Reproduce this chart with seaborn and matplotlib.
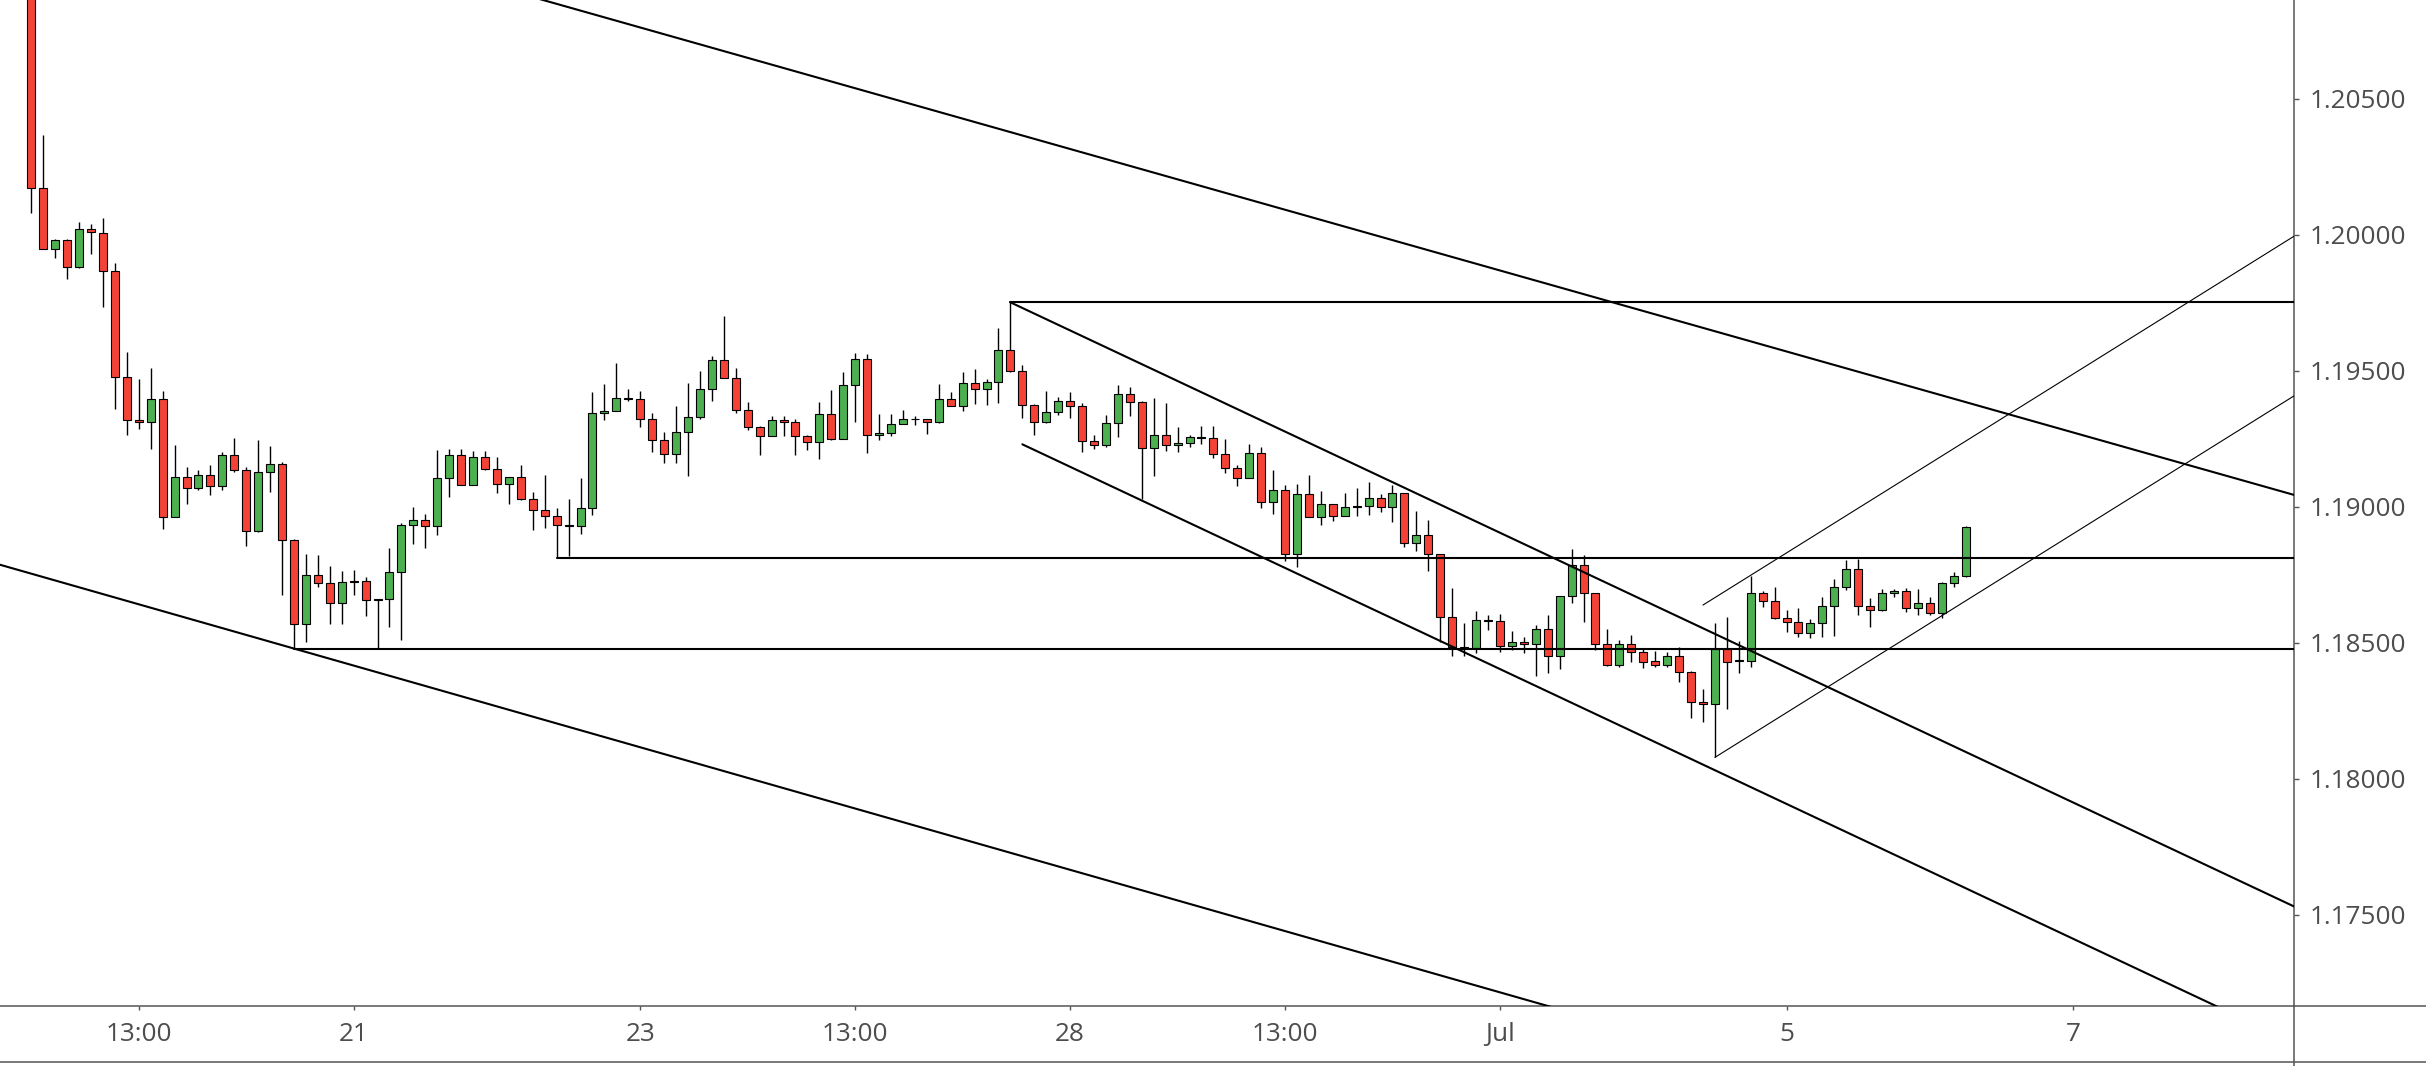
import matplotlib
matplotlib.use("Agg")
import matplotlib.pyplot as plt
from matplotlib.lines import Line2D
import seaborn as sns
import pandas as pd
import numpy as np

# EUR/USD style 2H candles
opens = [
    1.21300, 1.20173, 1.19947, 1.19979, 1.19881, 1.20019, 1.20007, 1.19866, 1.19476, 1.19318,
    1.19310, 1.19397, 1.18962, 1.19108, 1.19069, 1.19115, 1.19075, 1.19189, 1.19134, 1.18910,
    1.19126, 1.19156, 1.18877, 1.18568, 1.18749, 1.18719, 1.18645, 1.18724, 1.18727, 1.18657,
    1.18659, 1.18758, 1.18931, 1.18950, 1.18928, 1.19104, 1.19189, 1.19078, 1.19181, 1.19137,
    1.19082, 1.19108, 1.19027, 1.18986, 1.18964, 1.18930, 1.18928, 1.18994, 1.19343, 1.19350,
    1.19397, 1.19395, 1.19321, 1.19244, 1.19192, 1.19273, 1.19328, 1.19431, 1.19538, 1.19472,
    1.19354, 1.19292, 1.19258, 1.19317, 1.19310, 1.19258, 1.19239, 1.19339, 1.19250, 1.19446,
    1.19542, 1.19262, 1.19270, 1.19303, 1.19321, 1.19321, 1.19310, 1.19395, 1.19369, 1.19453,
    1.19431, 1.19457, 1.19575, 1.19497, 1.19372, 1.19310, 1.19347, 1.19387, 1.19369, 1.19240,
    1.19225, 1.19306, 1.19413, 1.19383, 1.19214, 1.19262, 1.19225, 1.19233, 1.19254, 1.19252,
    1.19192, 1.19141, 1.19104, 1.19196, 1.19016, 1.19060, 1.18825, 1.19045, 1.18961, 1.19008,
    1.18964, 1.18999, 1.19001, 1.19031, 1.18997, 1.19049, 1.18865, 1.18894, 1.18825, 1.18593,
    1.18485, 1.18479, 1.18580, 1.18578, 1.18486, 1.18501, 1.18494, 1.18549, 1.18450, 1.18670,
    1.18784, 1.18681, 1.18494, 1.18417, 1.18494, 1.18464, 1.18431, 1.18417, 1.18450, 1.18391,
    1.18280, 1.18273, 1.18475, 1.18433, 1.18433, 1.18681, 1.18652, 1.18589, 1.18575, 1.18534,
    1.18571, 1.18633, 1.18703, 1.18769, 1.18633, 1.18619, 1.18681, 1.18689, 1.18626, 1.18644,
    1.18608, 1.18718, 1.18744,
]
highs = [
    1.21360, 1.20367, 1.19982, 1.19982, 1.20047, 1.20039, 1.20062, 1.19894, 1.19568, 1.19469,
    1.19508, 1.19426, 1.19226, 1.19144, 1.19134, 1.19152, 1.19202, 1.19253, 1.19144, 1.19244,
    1.19223, 1.19163, 1.18880, 1.18826, 1.18823, 1.18782, 1.18765, 1.18767, 1.18740, 1.18659,
    1.18847, 1.18938, 1.18998, 1.18972, 1.19208, 1.19212, 1.19212, 1.19204, 1.19204, 1.19181,
    1.19108, 1.19152, 1.19053, 1.19115, 1.18994, 1.19027, 1.19104, 1.19420, 1.19450, 1.19527,
    1.19431, 1.19424, 1.19343, 1.19273, 1.19370, 1.19454, 1.19499, 1.19554, 1.19701, 1.19510,
    1.19385, 1.19295, 1.19333, 1.19333, 1.19321, 1.19262, 1.19385, 1.19429, 1.19495, 1.19565,
    1.19561, 1.19339, 1.19339, 1.19354, 1.19332, 1.19321, 1.19450, 1.19420, 1.19494, 1.19505,
    1.19468, 1.19657, 1.19751, 1.19519, 1.19376, 1.19424, 1.19404, 1.19420, 1.19380, 1.19262,
    1.19336, 1.19446, 1.19439, 1.19387, 1.19398, 1.19380, 1.19291, 1.19262, 1.19295, 1.19295,
    1.19247, 1.19152, 1.19229, 1.19218, 1.19134, 1.19078, 1.19082, 1.19115, 1.19056, 1.19008,
    1.19049, 1.19067, 1.19089, 1.19045, 1.19078, 1.19049, 1.18983, 1.18950, 1.18825, 1.18700,
    1.18571, 1.18615, 1.18600, 1.18604, 1.18542, 1.18520, 1.18564, 1.18600, 1.18670, 1.18843,
    1.18821, 1.18681, 1.18549, 1.18508, 1.18527, 1.18479, 1.18468, 1.18464, 1.18483, 1.18394,
    1.18328, 1.18571, 1.18595, 1.18507, 1.18745, 1.18688, 1.18703, 1.18619, 1.18626, 1.18586,
    1.18668, 1.18733, 1.18803, 1.18806, 1.18663, 1.18696, 1.18696, 1.18700, 1.18696, 1.18667,
    1.18722, 1.18759, 1.18928,
]
lows = [
    1.20081, 1.19947, 1.19914, 1.19838, 1.19876, 1.19930, 1.19735, 1.19357, 1.19263, 1.19287,
    1.19213, 1.18916, 1.18960, 1.19008, 1.19061, 1.19044, 1.19061, 1.19128, 1.18855, 1.18905,
    1.19052, 1.18676, 1.18478, 1.18503, 1.18704, 1.18570, 1.18570, 1.18676, 1.18596, 1.18478,
    1.18557, 1.18511, 1.18864, 1.18849, 1.18897, 1.19036, 1.19078, 1.19078, 1.19133, 1.19049,
    1.19008, 1.19023, 1.18915, 1.18920, 1.18812, 1.18819, 1.18900, 1.18969, 1.19317, 1.19350,
    1.19389, 1.19294, 1.19202, 1.19159, 1.19159, 1.19114, 1.19323, 1.19389, 1.19472, 1.19343,
    1.19283, 1.19191, 1.19258, 1.19260, 1.19191, 1.19209, 1.19176, 1.19246, 1.19250, 1.19312,
    1.19198, 1.19246, 1.19258, 1.19303, 1.19299, 1.19268, 1.19306, 1.19369, 1.19350, 1.19376,
    1.19375, 1.19382, 1.19494, 1.19325, 1.19262, 1.19306, 1.19336, 1.19325, 1.19200, 1.19211,
    1.19218, 1.19255, 1.19332, 1.19027, 1.19111, 1.19203, 1.19200, 1.19218, 1.19229, 1.19178,
    1.19122, 1.19075, 1.19104, 1.18994, 1.18972, 1.18799, 1.18777, 1.18961, 1.18932, 1.18946,
    1.18964, 1.18964, 1.18968, 1.18979, 1.18942, 1.18850, 1.18835, 1.18762, 1.18501, 1.18452,
    1.18452, 1.18461, 1.18545, 1.18467, 1.18472, 1.18461, 1.18376, 1.18387, 1.18404, 1.18644,
    1.18575, 1.18472, 1.18413, 1.18409, 1.18428, 1.18408, 1.18411, 1.18411, 1.18356, 1.18224,
    1.18207, 1.18078, 1.18257, 1.18389, 1.18411, 1.18630, 1.18585, 1.18538, 1.18519, 1.18516,
    1.18519, 1.18523, 1.18692, 1.18600, 1.18556, 1.18615, 1.18667, 1.18611, 1.18600, 1.18600,
    1.18589, 1.18703, 1.18740,
]
closes = [
    1.20173, 1.19947, 1.19979, 1.19881, 1.20019, 1.20009, 1.19866, 1.19476, 1.19318, 1.19310,
    1.19397, 1.18962, 1.19108, 1.19069, 1.19115, 1.19075, 1.19189, 1.19134, 1.18910, 1.19126,
    1.19156, 1.18877, 1.18568, 1.18749, 1.18719, 1.18645, 1.18721, 1.18724, 1.18657, 1.18657,
    1.18758, 1.18931, 1.18951, 1.18928, 1.19104, 1.19189, 1.19078, 1.19181, 1.19137, 1.19082,
    1.19108, 1.19027, 1.18986, 1.18964, 1.18931, 1.18930, 1.18994, 1.19343, 1.19350, 1.19398,
    1.19397, 1.19321, 1.19244, 1.19192, 1.19273, 1.19328, 1.19431, 1.19538, 1.19472, 1.19354,
    1.19292, 1.19258, 1.19317, 1.19310, 1.19258, 1.19239, 1.19339, 1.19250, 1.19446, 1.19542,
    1.19262, 1.19270, 1.19303, 1.19321, 1.19321, 1.19310, 1.19395, 1.19369, 1.19453, 1.19431,
    1.19457, 1.19575, 1.19497, 1.19372, 1.19310, 1.19347, 1.19387, 1.19369, 1.19240, 1.19225,
    1.19306, 1.19413, 1.19383, 1.19214, 1.19262, 1.19225, 1.19233, 1.19255, 1.19254, 1.19192,
    1.19141, 1.19104, 1.19196, 1.19016, 1.19060, 1.18825, 1.19045, 1.18961, 1.19008, 1.18964,
    1.18997, 1.18999, 1.19031, 1.18997, 1.19049, 1.18865, 1.18894, 1.18825, 1.18593, 1.18485,
    1.18480, 1.18582, 1.18580, 1.18486, 1.18501, 1.18494, 1.18549, 1.18450, 1.18670, 1.18784,
    1.18681, 1.18494, 1.18417, 1.18494, 1.18464, 1.18430, 1.18417, 1.18450, 1.18391, 1.18280,
    1.18273, 1.18475, 1.18430, 1.18433, 1.18681, 1.18652, 1.18589, 1.18575, 1.18534, 1.18571,
    1.18633, 1.18703, 1.18769, 1.18633, 1.18619, 1.18681, 1.18689, 1.18626, 1.18644, 1.18608,
    1.18718, 1.18744, 1.18924,
]

time_ticks = [9, 27, 51, 69, 87, 105, 123, 147, 171]
time_labels = ["13:00", "21", "23", "13:00", "28", "13:00", "Jul", "5", "7"]
price_ticks = [1.175, 1.180, 1.185, 1.190, 1.195, 1.200, 1.205]

# drawn lines: (x0, price0, x1, price1, width)
long_upper = (30.0, 1.21022, 189.5, 1.19043, 1.5)
long_lower = (-3.0, 1.18791, 135.0, 1.17064, 1.5)
chan_upper = (82.0, 1.19751, 189.5, 1.17530, 1.5)
chan_lower = (83.0, 1.19229, 189.5, 1.17029, 1.5)
thin_upper = (140.0, 1.18638, 189.5, 1.19994, 0.8)
thin_lower = (141.0, 1.18078, 189.5, 1.19407, 0.8)
level_low = (22.0, 1.18478, 189.5, 1.18478, 1.5)
level_mid = (44.0, 1.18812, 189.5, 1.18812, 1.5)
level_high = (82.0, 1.19751, 189.5, 1.19751, 1.5)

GREEN = "#4CAF50"
RED = "#F44336"
AXIS = "#555555"
TEXT = "#4D4D4D"

sns.set_theme(style="white")
plt.rcParams["font.family"] = ["Open Sans", "DejaVu Sans"]

fig = plt.figure(figsize=(24.26, 10.66), dpi=100)
ax = fig.add_axes([0, 0.05629, 0.94559, 0.94371])

df = pd.DataFrame({"open": opens, "high": highs, "low": lows, "close": closes})
df["idx"] = np.arange(len(df))
up = df["close"] > df["open"]
down = df["close"] < df["open"]
flat = ~(up | down)

# wicks
ax.vlines(df["idx"], df["low"], df["high"], color="black", lw=1.0, zorder=2)

# bodies
for mask, col in [(up, GREEN), (down, RED), (flat, "black")]:
    sub = df[mask]
    height = (sub["close"] - sub["open"]).abs().clip(lower=0.00002)
    bottom = np.minimum(sub["open"], sub["close"])
    ax.bar(sub["idx"], height, bottom=bottom, width=0.67, color=col,
           edgecolor="black", linewidth=0.8, zorder=3)

# trend lines and levels
for x0, y0, x1, y1, lw in [long_upper, long_lower, chan_upper, chan_lower,
                           thin_upper, thin_lower, level_low, level_mid, level_high]:
    sns.lineplot(x=[x0, x1], y=[y0, y1], ax=ax, color="black", lw=lw,
                 sort=False, estimator=None, zorder=4)

ax.set_xlim(-2.62, 189.5)
ax.set_ylim(1.17164, 1.208625)
ax.set_xlabel("")
ax.set_ylabel("")
ax.grid(False)

ax.yaxis.tick_right()
ax.set_yticks(price_ticks)
ax.set_yticklabels([f"{p:.5f}" for p in price_ticks])
ax.set_xticks(time_ticks)
ax.set_xticklabels(time_labels)
ax.tick_params(axis="y", length=3.6, width=1, color=AXIS, pad=8,
               labelsize=18.8, labelcolor=TEXT, right=True, left=False)
ax.tick_params(axis="x", length=3, width=1, color=AXIS, pad=8.5,
               labelsize=18.8, labelcolor=TEXT, bottom=True)

for s in ["left", "top"]:
    ax.spines[s].set_visible(False)
for s in ["right", "bottom"]:
    ax.spines[s].set_color(AXIS)
    ax.spines[s].set_linewidth(1.1)

# frame pieces outside the plot area
fig.add_artist(Line2D([0.94559, 1], [0.05629, 0.05629], transform=fig.transFigure, color=AXIS, lw=1.1))
fig.add_artist(Line2D([0.94559, 0.94559], [0, 0.05629], transform=fig.transFigure, color=AXIS, lw=1.1))
fig.add_artist(Line2D([0, 1], [0.00375, 0.00375], transform=fig.transFigure, color=AXIS, lw=1.1))

fig.savefig("out.png", dpi=100)
